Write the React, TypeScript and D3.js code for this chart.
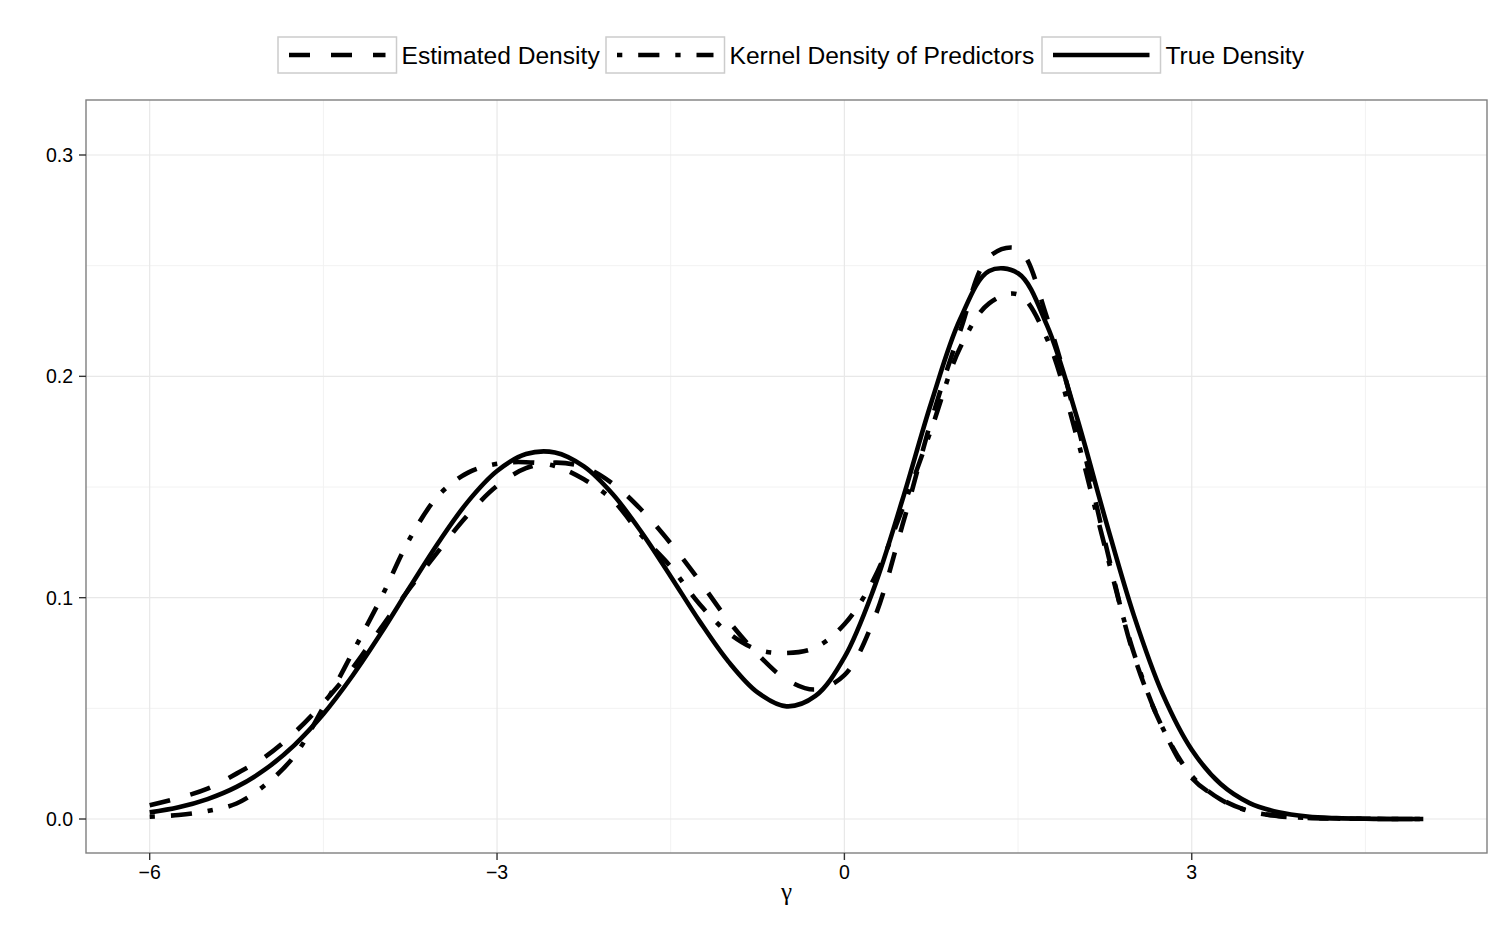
import React from 'react';
import * as d3 from 'd3';

// ---- data ----
const gammaGrid = [
  -6, -5.75, -5.5, -5.25, -5, -4.75, -4.5, -4.25, -4, -3.75, -3.5, -3.25, -3, -2.75, -2.5,
  -2.25, -2, -1.75, -1.5, -1.25, -1, -0.75, -0.5, -0.25, 0, 0.25, 0.5, 0.75, 1, 1.25, 1.5,
  1.75, 2, 2.25, 2.5, 2.75, 3, 3.25, 3.5, 3.75, 4, 4.25, 4.5, 4.75, 5,
];

const estimatedDensity = [
  0.0062, 0.0095, 0.0137, 0.0205, 0.0282, 0.039, 0.0525, 0.068, 0.0865, 0.1045, 0.1215, 0.1375,
  0.1505, 0.1585, 0.161, 0.159, 0.1515, 0.1395, 0.1245, 0.1075, 0.0895, 0.0745, 0.063, 0.0585,
  0.065, 0.0895, 0.1325, 0.18, 0.2205, 0.254, 0.2575, 0.2265, 0.181, 0.1255, 0.074, 0.041, 0.0185,
  0.009, 0.0035, 0.0013, 0.0005, 0.0002, 0.0001, 0, 0,
];

const kernelDensity = [
  0.001, 0.0018, 0.0036, 0.007, 0.0155, 0.0285, 0.0505, 0.075, 0.1, 0.127, 0.1465, 0.1565,
  0.1605, 0.1612, 0.1595, 0.1535, 0.144, 0.128, 0.114, 0.097, 0.084, 0.0765, 0.075, 0.0775,
  0.088, 0.108, 0.14, 0.176, 0.213, 0.233, 0.237, 0.217, 0.174, 0.123, 0.075, 0.041, 0.0195,
  0.0088, 0.0035, 0.0014, 0.0005, 0.0002, 0.0001, 0, 0,
];

const trueDensity = [
  0.003, 0.0053, 0.009, 0.0145, 0.0225, 0.0334, 0.0474, 0.0646, 0.0841, 0.105, 0.1254, 0.1435,
  0.1572, 0.1649, 0.1656, 0.1593, 0.1467, 0.1294, 0.1096, 0.0893, 0.071, 0.0572, 0.0509, 0.0556,
  0.073, 0.1035, 0.144, 0.1881, 0.2259, 0.2476, 0.2466, 0.223, 0.1829, 0.1362, 0.092, 0.0563,
  0.0313, 0.0158, 0.0072, 0.003, 0.0011, 0.0004, 0.0001, 0, 0,
];

const xTickValues = [-6, -3, 0, 3];
const xMinorValues = [-4.5, -1.5, 1.5, 4.5];
const yTickValues = [0, 0.1, 0.2, 0.3];
const yMinorValues = [0.05, 0.15, 0.25];
const seriesNames = ['Estimated Density', 'Kernel Density of Predictors', 'True Density'];
const xAxisTitle = 'γ';

// ---- styles ----
const W = 1500;
const H = 925;
const panel = { left: 86, right: 1487, top: 100, bottom: 853 };
const LW = 4.6;
const dashStyles = ['21 21', '5.3 15.9 21.2 15.9', 'none'];
const legendBoxX = [278, 606, 1042];
const fontSans = '"Liberation Sans", Arial, Helvetica, sans-serif';

const fmtX = (v: number) => (v < 0 ? '\u2212' + Math.abs(v) : String(v));
const fmtY = (v: number) => v.toFixed(1);

export default function App() {
  const x = d3.scaleLinear().domain([-6.55, 5.55]).range([panel.left, panel.right]);
  const y = d3.scaleLinear().domain([-0.01536, 0.32485]).range([panel.bottom, panel.top]);

  const series = [estimatedDensity, kernelDensity, trueDensity];
  const lineGen = d3
    .line<number>()
    .x((_, i) => x(gammaGrid[i]))
    .y((d) => y(d))
    .curve(d3.curveCatmullRom.alpha(0.5));

  return (
    <svg
      width={W}
      height={H}
      viewBox={`0 0 ${W} ${H}`}
      style={{ position: 'absolute', left: 0, top: 0, background: '#fff' }}
    >
      <rect x={0} y={0} width={W} height={H} fill="#fff" />
      {/* grid */}
      <g>
        {yMinorValues.map((v) => (
          <line key={'ym' + v} x1={panel.left} x2={panel.right} y1={y(v)} y2={y(v)} stroke="#f2f2f2" strokeWidth={1} />
        ))}
        {xMinorValues.map((v) => (
          <line key={'xm' + v} x1={x(v)} x2={x(v)} y1={panel.top} y2={panel.bottom} stroke="#f2f2f2" strokeWidth={1} />
        ))}
        {yTickValues.map((v) => (
          <line key={'yM' + v} x1={panel.left} x2={panel.right} y1={y(v)} y2={y(v)} stroke="#e8e8e8" strokeWidth={1.2} />
        ))}
        {xTickValues.map((v) => (
          <line key={'xM' + v} x1={x(v)} x2={x(v)} y1={panel.top} y2={panel.bottom} stroke="#e8e8e8" strokeWidth={1.2} />
        ))}
      </g>

      {/* curves */}
      <g fill="none" stroke="#000" strokeWidth={LW} strokeLinejoin="round">
        {series.map((s, i) => (
          <path key={seriesNames[i]} d={lineGen(s) || ''} strokeDasharray={dashStyles[i]} strokeLinecap="butt" />
        ))}
      </g>

      {/* panel border */}
      <rect
        x={panel.left}
        y={panel.top}
        width={panel.right - panel.left}
        height={panel.bottom - panel.top}
        fill="none"
        stroke="#7f7f7f"
        strokeWidth={1.4}
      />

      {/* y axis */}
      <g fontFamily={fontSans} fontSize={19.5} fill="#000">
        {yTickValues.map((v) => (
          <g key={'yt' + v}>
            <line x1={panel.left - 7} x2={panel.left} y1={y(v)} y2={y(v)} stroke="#333" strokeWidth={1.4} />
            <text x={panel.left - 13} y={y(v) + 7} textAnchor="end">
              {fmtY(v)}
            </text>
          </g>
        ))}
      </g>

      {/* x axis */}
      <g fontFamily={fontSans} fontSize={19.5} fill="#000">
        {xTickValues.map((v) => (
          <g key={'xt' + v}>
            <line x1={x(v)} x2={x(v)} y1={panel.bottom} y2={panel.bottom + 7} stroke="#333" strokeWidth={1.4} />
            <text x={x(v)} y={panel.bottom + 26} textAnchor="middle">
              {fmtX(v)}
            </text>
          </g>
        ))}
      </g>
      <text
        x={(panel.left + panel.right) / 2}
        y={900}
        textAnchor="middle"
        fontFamily='"Liberation Serif", "DejaVu Serif", serif'
        fontSize={25}
        fill="#000"
      >
        {xAxisTitle}
      </text>

      {/* legend */}
      <g fontFamily={fontSans} fontSize={24.6} fill="#000">
        {seriesNames.map((name, i) => {
          const bx = legendBoxX[i];
          const cy = 55;
          return (
            <g key={'lg' + name}>
              <rect x={bx} y={37} width={118.5} height={36} fill="#fff" stroke="#cccccc" strokeWidth={1.5} />
              <line
                x1={bx + 11}
                x2={bx + 107.5}
                y1={cy}
                y2={cy}
                stroke="#000"
                strokeWidth={LW}
                strokeDasharray={dashStyles[i]}
                strokeLinecap="butt"
              />
              <text x={bx + 123.5} y={cy + 8.8}>
                {name}
              </text>
            </g>
          );
        })}
      </g>
    </svg>
  );
}
